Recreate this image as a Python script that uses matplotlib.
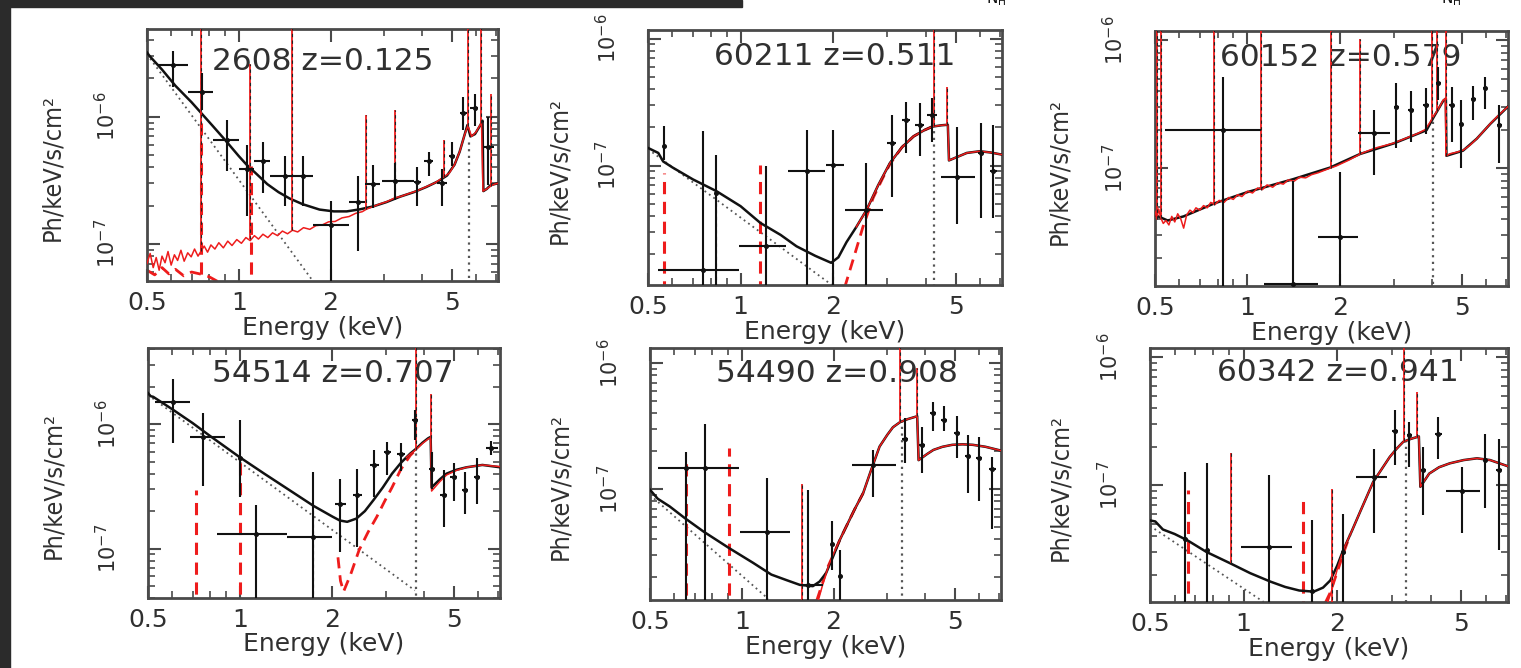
import numpy as np
import matplotlib
matplotlib.use("Agg")
import matplotlib.pyplot as plt
from matplotlib import font_manager as fm
from matplotlib.patches import Rectangle
from matplotlib.ticker import FixedLocator, FuncFormatter, LogLocator, NullFormatter

plt.rcParams['font.family'] = ['DejaVu Sans']

RED = '#ee1c1c'
INK = '#303030'
AXC = '#4a4a4a'
DOT = '#555555'

# ---------------- panel 1 : 2608 z=0.125 ----------------
p1_model_E = [0.50, 0.51, 0.56, 0.62, 0.70, 0.75, 0.82, 0.90, 1.00, 1.06, 1.15, 1.24, 1.35, 1.47, 1.62,
              1.84, 2.05, 2.26, 2.50, 2.76, 3.05, 3.38, 3.75, 4.12, 4.50, 4.82, 5.10, 5.30, 5.50, 5.62,
              5.75, 5.95, 6.20, 6.30, 6.34, 6.50, 6.70, 7.10]
p1_model_F = [3.2e-6, 3.0e-6, 2.35e-6, 1.75e-6, 1.3e-6, 1.08e-6, 8.5e-7, 6.6e-7, 4.9e-7, 4.2e-7, 3.5e-7,
              2.95e-7, 2.55e-7, 2.27e-7, 2.05e-7, 1.86e-7, 1.8e-7, 1.8e-7, 1.87e-7, 1.97e-7, 2.13e-7,
              2.35e-7, 2.55e-7, 2.8e-7, 3.1e-7, 3.45e-7, 4.2e-7, 5.3e-7, 7.2e-7, 8.6e-7, 7.0e-7, 7.3e-7,
              8.6e-7, 9.3e-7, 2.6e-7, 2.7e-7, 2.9e-7, 3.0e-7]
p1_red_E = [0.500, 0.512, 0.524, 0.536, 0.548, 0.560, 0.573, 0.586, 0.600, 0.615,
            0.630, 0.646, 0.662, 0.680, 0.698, 0.716, 0.735, 0.755, 0.770, 0.790,
            0.810, 0.835, 0.860, 0.890, 0.920, 0.950, 0.985, 1.020, 1.055, 1.090,
            1.125, 1.160, 1.200, 1.245, 1.290, 1.340, 1.390, 1.445, 1.500, 1.560,
            1.630, 1.710, 1.790, 1.880, 1.970, 2.070, 2.180, 2.300, 2.420, 2.540,
            2.620, 2.750, 2.900, 3.050, 3.250, 3.400, 3.600, 3.850, 4.100, 4.400,
            4.700, 4.900, 5.100, 5.300, 5.500, 5.640, 5.800, 6.000, 6.250, 6.320,
            6.500, 6.700, 6.900, 7.100]
p1_red_F = [7.0e-8, 8.4e-8, 6.5e-8, 7.8e-8, 6.2e-8, 8.0e-8, 7.1e-8, 8.7e-8, 6.8e-8, 8.2e-8,
            7.4e-8, 8.9e-8, 7.3e-8, 8.5e-8, 7.9e-8, 9.1e-8, 8.0e-8, 8.9e-8, 9.6e-8, 8.6e-8,
            9.8e-8, 9.1e-8, 1.02e-7, 9.3e-8, 1.05e-7, 9.7e-8, 1.08e-7, 1.01e-7, 1.12e-7, 1.06e-7,
            1.16e-7, 1.09e-7, 1.19e-7, 1.12e-7, 1.22e-7, 1.16e-7, 1.26e-7, 1.20e-7, 1.28e-7, 1.24e-7,
            1.34e-7, 1.30e-7, 1.39e-7, 1.41e-7, 1.49e-7, 1.50e-7, 1.60e-7, 1.64e-7, 1.74e-7, 1.79e-7,
            1.87e-7, 1.96e-7, 2.06e-7, 2.14e-7, 2.30e-7, 2.36e-7, 2.48e-7, 2.62e-7, 2.80e-7, 3.02e-7,
            3.35e-7, 3.6e-7, 4.2e-7, 5.3e-7, 7.2e-7, 8.5e-7, 7.0e-7, 7.6e-7, 9.0e-7, 2.6e-7,
            2.7e-7, 2.85e-7, 2.95e-7, 3.0e-7]
p1_rspk_E = [0.752, 1.09, 1.50, 2.62, 3.25, 4.70, 5.64, 6.25, 6.70]
p1_rspk_lo = [8.8e-8, 1.1e-7, 1.28e-7, 1.87e-7, 2.3e-7, 3.35e-7, 8.5e-7, 9.0e-7, 2.85e-7]
p1_rspk_hi = [1e-5, 2.6e-6, 1e-5, 1.04e-6, 1.13e-6, 6.6e-7, 1e-5, 1e-5, 1.5e-6]
p1_dash_E = [0.50, 0.53, 0.56, 0.59, 0.62, 0.66, 0.70, 0.745, 0.80, 0.86, 0.95]
p1_dash_F = [6.2e-8, 5.7e-8, 6.5e-8, 5.8e-8, 6.3e-8, 5.6e-8, 6.0e-8, 5.8e-8, 5.5e-8, 5.0e-8, 4.5e-8]
p1_dspk_E = [0.75, 1.10]
p1_dspk_lo = [4e-8, 4e-8]
p1_dspk_hi = [1.07e-6, 4.1e-7]
p1_pl_E = [0.50, 1.76]
p1_pl_F = [3.1e-6, 5.0e-8]
p1_fe = (5.69, 6.8e-7)
p1_E = [0.608, 0.757, 0.914, 1.06, 1.2, 1.42, 1.62, 2.0, 2.46, 2.75, 3.25, 3.84, 4.2, 4.63, 5.0, 5.43, 5.94, 6.56]
p1_F = [2.53e-6, 1.56e-6, 6.6e-7, 3.9e-7, 4.5e-7, 3.4e-7, 3.4e-7, 1.4e-7, 2.15e-7, 2.97e-7, 3.1e-7,
        3.05e-7, 4.5e-7, 3.0e-7, 4.9e-7, 1.07e-6, 1.17e-6, 5.75e-7]
p1_Elo = [0.538, 0.68, 0.82, 1.0, 1.12, 1.27, 1.52, 1.75, 2.3, 2.6, 2.95, 3.75, 4.05, 4.45, 4.88, 5.3, 5.75, 6.35]
p1_Ehi = [0.68, 0.82, 1.0, 1.12, 1.27, 1.52, 1.75, 2.3, 2.6, 2.9, 3.75, 3.95, 4.35, 4.8, 5.12, 5.62, 6.1, 6.85]
p1_Flo = [1.7e-6, 1.13e-6, 3.75e-7, 1.65e-7, 2.5e-7, 2.0e-7, 2.0e-7, 1e-9, 8.8e-8, 1.9e-7, 2.2e-7,
          2.0e-7, 3.4e-7, 2.0e-7, 4.1e-7, 7.9e-7, 8.5e-7, 2.9e-7]
p1_Fhi = [3.3e-6, 2.2e-6, 9.5e-7, 6.0e-7, 6.3e-7, 4.9e-7, 4.9e-7, 2.16e-7, 3.4e-7, 4.2e-7, 4.3e-7,
          4.0e-7, 5.3e-7, 3.9e-7, 6.3e-7, 1.43e-6, 1.5e-6, 1.0e-6]

# ---------------- panel 2 : 60211 z=0.511 ----------------
p2_model_E = [0.50, 0.54, 0.56, 0.60, 0.70, 0.835, 1.00, 1.16, 1.35, 1.52, 1.75, 1.97, 2.08, 2.21, 2.38,
              2.57, 2.80, 3.06, 3.35, 3.65, 3.95, 4.20, 4.50, 4.72, 4.76, 5.10, 5.44, 6.00, 6.50, 7.10]
p2_model_F = [1.38e-7, 1.26e-7, 1.08e-7, 9.7e-8, 7.8e-8, 6.3e-8, 4.8e-8, 3.54e-8, 2.85e-8, 2.32e-8,
              1.95e-8, 1.72e-8, 1.9e-8, 2.5e-8, 3.3e-8, 4.5e-8, 7.0e-8, 1.05e-7, 1.4e-7, 1.7e-7,
              1.9e-7, 2.03e-7, 2.08e-7, 2.1e-7, 1.1e-7, 1.18e-7, 1.26e-7, 1.3e-7, 1.27e-7, 1.22e-7]
p2_red_E = [2.38, 2.57, 2.80, 3.06, 3.35, 3.65, 3.95, 4.20, 4.50, 4.72, 4.76, 5.10, 5.44, 6.00, 6.50, 7.10]
p2_red_F = [3.3e-8, 4.5e-8, 7.0e-8, 1.05e-7, 1.4e-7, 1.7e-7, 1.9e-7, 2.03e-7, 2.08e-7, 2.1e-7,
            1.1e-7, 1.18e-7, 1.26e-7, 1.3e-7, 1.27e-7, 1.22e-7]
p2_rspk_E = [0.83, 2.00, 4.24, 4.70]
p2_rspk_lo = [1e-8, 1e-8, 2.04e-7, 2.1e-7]
p2_rspk_hi = [6.2e-8, 1.75e-8, 1e-5, 4.2e-7]
p2_dash_E = [2.18, 2.35, 2.50, 2.70, 2.90, 3.06, 3.35, 3.65, 3.95, 4.20]
p2_dash_F = [1.1e-8, 2.0e-8, 3.3e-8, 5.6e-8, 8.0e-8, 1.03e-7, 1.4e-7, 1.7e-7, 1.9e-7, 2.03e-7]
p2_dspk_E = [0.565, 1.16]
p2_dspk_lo = [1e-8, 1e-8]
p2_dspk_hi = [8.8e-8, 1.02e-7]
p2_pl_E = [0.50, 1.98]
p2_pl_F = [1.35e-7, 1.15e-8]
p2_fe = (4.26, 2.0e-7)
p2_E = [0.755, 0.565, 0.83, 1.21, 1.64, 2.0, 2.55, 3.1, 3.45, 3.83, 4.2, 5.05, 6.06, 6.6]
p2_F = [1.52e-8, 1.42e-7, 6.1e-8, 2.32e-8, 9.0e-8, 1.02e-7, 4.5e-8, 1.5e-7, 2.3e-7, 2.1e-7, 2.52e-7,
        8.2e-8, 1.27e-7, 9.0e-8]
p2_Elo = [0.54, 0.565, 0.83, 0.99, 1.43, 1.90, 2.19, 3.0, 3.35, 3.7, 4.05, 4.47, 5.9, 6.45]
p2_Ehi = [0.99, 0.565, 0.83, 1.41, 1.88, 2.17, 2.9, 3.2, 3.55, 3.95, 4.35, 5.8, 6.2, 6.8]
p2_Flo = [1e-9, 1.1e-7, 1e-9, 1e-9, 1e-9, 1e-9, 1e-9, 5.7e-8, 1.26e-7, 1.2e-7, 1.55e-7, 3.5e-8, 3.9e-8, 3.9e-8]
p2_Fhi = [1.86e-7, 2.05e-7, 1.22e-7, 9.9e-8, 1.92e-7, 1.92e-7, 1.05e-7, 2.52e-7, 3.2e-7, 3.1e-7, 3.4e-7,
          2.0e-7, 2.17e-7, 2.1e-7]

# ---------------- panel 3 : 60152 z=0.579 ----------------
p3_model_E = [0.50, 0.55, 0.62, 0.78, 1.00, 1.41, 1.86, 2.33, 3.00, 3.40, 3.84, 4.05, 4.35, 4.44, 4.46,
              5.05, 5.60, 6.20, 7.10]
p3_model_F = [4.3e-8, 3.9e-8, 4.2e-8, 5.3e-8, 6.5e-8, 8.2e-8, 1.01e-7, 1.29e-7, 1.56e-7, 1.76e-7,
              1.98e-7, 2.5e-7, 3.35e-7, 3.5e-7, 1.25e-7, 1.37e-7, 1.7e-7, 2.22e-7, 3.05e-7]
p3_red_E = [0.500, 0.507, 0.514, 0.522, 0.532, 0.543, 0.555, 0.567, 0.580, 0.593,
            0.607, 0.620, 0.634, 0.650, 0.665, 0.680, 0.700, 0.720, 0.740, 0.760,
            0.785, 0.810, 0.840, 0.870, 0.900, 0.930, 0.960, 1.000, 1.040, 1.080,
            1.120, 1.160, 1.210, 1.260, 1.310, 1.360, 1.420, 1.480, 1.550, 1.620,
            1.700, 1.780, 1.860, 1.950, 2.050, 2.150, 2.250, 2.350, 2.500, 2.650,
            2.800, 3.000, 3.200, 3.400, 3.600, 3.800, 3.950, 4.050, 4.200, 4.350,
            4.420, 4.450, 4.600, 4.800, 5.050, 5.300, 5.600, 5.900, 6.200, 6.600, 7.100]
p3_red_F = [4.6e-8, 4.0e-8, 4.8e-8, 4.1e-8, 3.7e-8, 3.9e-8, 3.6e-8, 4.2e-8, 3.8e-8, 4.4e-8,
            4.0e-8, 3.4e-8, 4.3e-8, 4.7e-8, 4.5e-8, 4.9e-8, 4.7e-8, 5.1e-8, 4.9e-8, 5.4e-8,
            5.2e-8, 5.6e-8, 5.4e-8, 5.9e-8, 5.7e-8, 6.2e-8, 6.0e-8, 6.6e-8, 6.4e-8, 7.0e-8,
            6.8e-8, 7.4e-8, 7.1e-8, 7.7e-8, 7.5e-8, 8.1e-8, 7.9e-8, 8.5e-8, 8.4e-8, 8.9e-8,
            9.2e-8, 9.6e-8, 1.0e-7, 1.04e-7, 1.1e-7, 1.16e-7, 1.23e-7, 1.3e-7, 1.38e-7, 1.45e-7,
            1.5e-7, 1.57e-7, 1.67e-7, 1.77e-7, 1.87e-7, 2.0e-7, 2.3e-7, 2.55e-7, 2.9e-7, 3.4e-7,
            3.5e-7, 1.25e-7, 1.3e-7, 1.33e-7, 1.38e-7, 1.5e-7, 1.7e-7, 1.95e-7, 2.23e-7, 2.6e-7, 3.05e-7]
p3_rspk_E = [0.507, 0.525, 0.78, 1.11, 1.87, 2.33, 4.00, 4.15, 4.43]
p3_rspk_lo = [4.0e-8, 4.1e-8, 5.2e-8, 6.8e-8, 1.0e-7, 1.3e-7, 2.4e-7, 2.8e-7, 1.25e-7]
p3_rspk_hi = [1e-5, 1e-5, 1e-5, 1e-5, 1e-5, 1.03e-6, 1e-5, 1e-5, 1e-5]
p3_dash_E, p3_dash_F = [], []
p3_dspk_E, p3_dspk_lo, p3_dspk_hi = [], [], []
p3_pl_E, p3_pl_F = [], []
p3_fe = (4.04, 2.5e-7)
p3_E = [0.83, 1.41, 2.0, 2.58, 3.06, 3.43, 3.83, 4.2, 4.65, 4.98, 5.45, 5.95, 6.6]
p3_F = [1.98e-7, 1.25e-8, 2.9e-8, 1.87e-7, 3.0e-7, 2.84e-7, 3.1e-7, 4.6e-7, 3.1e-7, 2.2e-7, 3.5e-7, 4.2e-7, 2.17e-7]
p3_Elo = [0.54, 1.13, 1.7, 2.3, 3.0, 3.35, 3.75, 4.12, 4.55, 4.9, 5.35, 5.85, 6.5]
p3_Ehi = [1.11, 1.7, 2.3, 2.93, 3.12, 3.5, 3.9, 4.28, 4.72, 5.05, 5.55, 6.05, 6.75]
p3_Flo = [1e-9, 1e-9, 1e-9, 8.8e-8, 1.43e-7, 1.6e-7, 1.85e-7, 3.4e-7, 1.6e-7, 1.0e-7, 2.4e-7, 2.9e-7, 1.09e-7]
p3_Fhi = [5.2e-7, 8.0e-8, 9.4e-8, 2.84e-7, 4.6e-7, 4.0e-7, 4.2e-7, 6.2e-7, 4.3e-7, 3.4e-7, 4.35e-7, 5.2e-7, 3.1e-7]

# ---------------- panel 4 : 54514 z=0.707 ----------------
p4_model_E = [0.50, 0.51, 0.52, 0.60, 0.70, 0.80, 1.00, 1.20, 1.45, 1.74, 2.01, 2.12, 2.24, 2.40, 2.56,
              2.73, 2.93, 3.14, 3.36, 3.60, 3.75, 3.95, 4.12, 4.20, 4.23, 4.50, 4.73, 5.10, 5.50, 6.20, 7.10]
p4_model_F = [1.78e-6, 1.68e-6, 1.66e-6, 1.32e-6, 1.02e-6, 8.0e-7, 5.4e-7, 4.0e-7, 2.95e-7, 2.2e-7,
              1.8e-7, 1.68e-7, 1.64e-7, 1.74e-7, 2.0e-7, 2.45e-7, 3.1e-7, 4.0e-7, 4.9e-7, 5.8e-7,
              6.3e-7, 7.1e-7, 7.7e-7, 7.9e-7, 3.1e-7, 3.6e-7, 4.0e-7, 4.3e-7, 4.5e-7, 4.7e-7, 4.5e-7]
p4_red_E = [3.50, 3.60, 3.75, 3.95, 4.12, 4.20, 4.23, 4.50, 4.73, 5.10, 5.50, 6.20, 7.10]
p4_red_F = [5.4e-7, 5.75e-7, 6.2e-7, 7.0e-7, 7.6e-7, 7.8e-7, 2.9e-7, 3.45e-7, 3.9e-7, 4.25e-7, 4.5e-7,
            4.7e-7, 4.55e-7]
p4_rspk_E = [1.73, 3.76, 4.20]
p4_rspk_lo = [3e-8, 6.2e-7, 7.8e-7]
p4_rspk_hi = [2.2e-7, 1e-5, 1.76e-6]
p4_dash_E = [2.09, 2.13, 2.18, 2.30, 2.45, 2.62, 2.80, 2.97, 3.14, 3.35, 3.60, 3.75]
p4_dash_F = [8.5e-8, 5.5e-8, 4.5e-8, 6.2e-8, 9.7e-8, 1.35e-7, 1.8e-7, 2.4e-7, 3.1e-7, 4.3e-7, 5.6e-7, 6.2e-7]
p4_dspk_E = [0.72, 1.00]
p4_dspk_lo = [3e-8, 3e-8]
p4_dspk_hi = [2.95e-7, 5.4e-7]
p4_pl_E = [0.50, 3.73]
p4_pl_F = [1.72e-6, 4.6e-8]
p4_fe = (3.75, 6.2e-7)
p4_E = [0.605, 0.755, 1.0, 1.13, 1.73, 2.13, 2.42, 2.75, 3.03, 3.37, 3.73, 4.25, 4.63, 5.0, 5.45, 5.96, 6.6]
p4_F = [1.51e-6, 7.9e-7, 5.3e-7, 1.3e-7, 1.23e-7, 2.27e-7, 2.68e-7, 4.7e-7, 6.0e-7, 5.8e-7, 1.09e-6,
        4.4e-7, 2.7e-7, 3.76e-7, 2.95e-7, 3.76e-7, 6.4e-7]
p4_Elo = [0.526, 0.685, 1.0, 0.84, 1.42, 2.04, 2.34, 2.66, 2.95, 3.27, 3.65, 4.15, 4.52, 4.87, 5.32, 5.82, 6.35]
p4_Ehi = [0.685, 0.89, 1.0, 1.42, 2.0, 2.22, 2.5, 2.84, 3.12, 3.47, 3.82, 4.35, 4.74, 5.13, 5.58, 6.1, 6.95]
p4_Flo = [7.0e-7, 3.2e-7, 2.6e-7, 1e-9, 1e-9, 9.4e-8, 1.03e-7, 2.6e-7, 3.9e-7, 4.2e-7, 7.4e-7, 3.0e-7,
          1.49e-7, 2.4e-7, 1.9e-7, 2.3e-7, 5.6e-7]
p4_Fhi = [2.29e-6, 1.22e-6, 1.08e-6, 2.23e-7, 4.1e-7, 3.65e-7, 4.4e-7, 6.2e-7, 7.2e-7, 7.0e-7, 1.3e-6,
          6.0e-7, 4.3e-7, 4.9e-7, 4.1e-7, 5.3e-7, 7.3e-7]

# ---------------- panel 5 : 54490 z=0.908 ----------------
p5_model_E = [0.50, 0.53, 0.58, 0.65, 0.75, 0.91, 1.09, 1.25, 1.40, 1.55, 1.71, 1.80, 1.89, 1.99, 2.10,
              2.20, 2.35, 2.50, 2.65, 2.83, 3.00, 3.13, 3.30, 3.50, 3.73, 3.76, 3.80, 4.05, 4.25, 4.55,
              4.90, 5.30, 5.72, 6.30, 7.10]
p5_model_F = [9.9e-8, 8.4e-8, 7.3e-8, 5.9e-8, 4.6e-8, 3.4e-8, 2.6e-8, 2.1e-8, 1.9e-8, 1.74e-8,
              1.7e-8, 1.85e-8, 2.16e-8, 2.9e-8, 4.0e-8, 5.05e-8, 7.0e-8, 9.3e-8, 1.4e-7, 2.18e-7,
              2.7e-7, 3.1e-7, 3.4e-7, 3.6e-7, 3.77e-7, 3.8e-7, 1.7e-7, 1.9e-7, 2.05e-7, 2.17e-7,
              2.25e-7, 2.27e-7, 2.25e-7, 2.17e-7, 2.02e-7]
p5_red_E = [1.78, 1.86, 1.93, 1.99, 2.10, 2.20, 2.35, 2.50, 2.65, 2.83, 3.00, 3.13, 3.30, 3.50, 3.73,
            3.76, 3.80, 4.05, 4.25, 4.55, 4.90, 5.30, 5.72, 6.30, 7.10]
p5_red_F = [1.3e-8, 1.9e-8, 2.5e-8, 3.0e-8, 4.0e-8, 5.05e-8, 7.0e-8, 9.3e-8, 1.4e-7, 2.18e-7, 2.7e-7,
            3.1e-7, 3.4e-7, 3.6e-7, 3.77e-7, 3.8e-7, 1.7e-7, 1.9e-7, 2.05e-7, 2.17e-7, 2.25e-7,
            2.27e-7, 2.25e-7, 2.17e-7, 2.02e-7]
p5_rspk_E = [1.58, 3.30, 3.75]
p5_rspk_lo = [1e-8, 3.4e-7, 3.8e-7]
p5_rspk_hi = [1.1e-7, 1e-5, 9.1e-7]
p5_dash_E = [1.76, 1.84, 1.92, 2.00, 2.10, 2.20, 2.35, 2.50]
p5_dash_F = [1.3e-8, 1.8e-8, 2.45e-8, 3.05e-8, 4.0e-8, 5.05e-8, 7.0e-8, 9.3e-8]
p5_dspk_E = [0.655, 0.91]
p5_dspk_lo = [1e-8, 1e-8]
p5_dspk_hi = [1.65e-7, 2.12e-7]
p5_pl_E = [0.50, 1.22]
p5_pl_F = [9.0e-8, 1.35e-8]
p5_fe = (3.35, 3.45e-7)
p5_E = [0.655, 0.76, 1.21, 1.65, 1.97, 2.1, 2.7, 3.43, 3.9, 4.25, 4.6, 5.07, 5.5, 6.0, 6.6]
p5_F = [1.47e-7, 1.47e-7, 4.6e-8, 1.74e-8, 3.7e-8, 2.03e-8, 1.56e-7, 2.5e-7, 2.25e-7, 4.0e-7, 3.55e-7,
        2.78e-7, 1.84e-7, 1.76e-7, 1.44e-7]
p5_Elo = [0.53, 0.70, 0.99, 1.56, 1.97, 2.1, 2.3, 3.36, 3.82, 4.15, 4.5, 4.95, 5.38, 5.88, 6.45]
p5_Ehi = [0.70, 0.98, 1.44, 1.85, 1.97, 2.1, 3.2, 3.5, 3.98, 4.35, 4.7, 5.2, 5.62, 6.12, 6.8]
p5_Flo = [1e-9, 1e-9, 1e-9, 1e-9, 2.3e-8, 1e-9, 8.7e-8, 1.6e-7, 1.34e-7, 2.9e-7, 2.9e-7, 1.76e-7, 9.3e-8,
          8.0e-8, 4.8e-8]
p5_Fhi = [1.99e-7, 3.3e-7, 1.22e-7, 9.9e-8, 5.6e-8, 3.3e-8, 2.05e-7, 3.66e-7, 3.14e-7, 4.95e-7, 4.6e-7,
          3.8e-7, 2.7e-7, 2.6e-7, 1.81e-7]

# ---------------- panel 6 : 60342 z=0.941 ----------------
p6_model_E = [0.50, 0.52, 0.55, 0.60, 0.66, 0.76, 0.905, 1.05, 1.22, 1.36, 1.51, 1.68, 1.80, 1.90, 2.00,
              2.09, 2.23, 2.37, 2.61, 2.95, 3.10, 3.26, 3.45, 3.62, 3.66, 3.70, 3.95, 4.25, 4.60, 5.10,
              5.63, 6.20, 7.10]
p6_model_F = [5.3e-8, 5.2e-8, 4.5e-8, 4.15e-8, 3.7e-8, 3.0e-8, 2.45e-8, 2.05e-8, 1.76e-8, 1.6e-8,
              1.5e-8, 1.47e-8, 1.58e-8, 1.8e-8, 2.35e-8, 3.1e-8, 4.4e-8, 6.2e-8, 1.06e-7, 1.66e-7,
              1.92e-7, 2.18e-7, 2.3e-7, 2.38e-7, 2.4e-7, 9.7e-8, 1.23e-7, 1.38e-7, 1.48e-7, 1.57e-7,
              1.62e-7, 1.57e-7, 1.4e-7]
p6_red_E = [1.86, 1.92, 2.00, 2.09, 2.23, 2.37, 2.61, 2.95, 3.10, 3.26, 3.45, 3.62, 3.66, 3.70, 3.95,
            4.25, 4.60, 5.10, 5.63, 6.20, 7.10]
p6_red_F = [1.2e-8, 1.5e-8, 2.2e-8, 3.1e-8, 4.4e-8, 6.2e-8, 1.06e-7, 1.66e-7, 1.92e-7, 2.18e-7, 2.3e-7,
            2.38e-7, 2.4e-7, 9.7e-8, 1.23e-7, 1.38e-7, 1.48e-7, 1.57e-7, 1.62e-7, 1.57e-7, 1.4e-7]
p6_rspk_E = [0.91, 1.92, 3.28, 3.62]
p6_rspk_lo = [2.45e-8, 1e-8, 2.2e-7, 2.38e-7]
p6_rspk_hi = [1.77e-7, 9.4e-8, 1e-5, 5.35e-7]
p6_dash_E = [1.83, 1.90, 2.00, 2.09, 2.20]
p6_dash_F = [1.2e-8, 1.45e-8, 2.1e-8, 2.9e-8, 4.1e-8]
p6_dspk_E = [0.66, 1.55]
p6_dspk_lo = [1e-8, 1e-8]
p6_dspk_hi = [9.1e-8, 7.6e-8]
p6_pl_E = [0.50, 1.16]
p6_pl_F = [4.8e-8, 1.22e-8]
p6_fe = (3.33, 2.18e-7)
p6_E = [0.65, 0.76, 1.21, 1.66, 2.08, 2.62, 3.06, 3.41, 3.78, 4.23, 5.05, 5.95, 6.6]
p6_F = [3.8e-8, 3.1e-8, 3.26e-8, 1.5e-8, 3.0e-8, 1.16e-7, 2.65e-7, 2.45e-7, 1.31e-7, 2.53e-7, 8.97e-8,
        1.57e-7, 1.31e-7]
p6_Elo = [0.65, 0.76, 0.98, 1.66, 2.08, 2.3, 3.0, 3.35, 3.72, 4.12, 4.46, 5.95, 6.5]
p6_Ehi = [0.65, 0.76, 1.43, 1.66, 2.08, 2.9, 3.13, 3.48, 3.85, 4.35, 5.75, 5.95, 6.75]
p6_Flo = [1e-9, 1e-9, 1e-9, 1e-9, 1e-9, 4.2e-8, 1.43e-7, 1.39e-7, 5.8e-8, 1.6e-7, 4.2e-8, 6.6e-8, 3.1e-8]
p6_Fhi = [1.27e-7, 1.48e-7, 1.2e-7, 5.3e-8, 6.0e-8, 1.93e-7, 3.85e-7, 3.12e-7, 2.0e-7, 3.4e-7, 1.39e-7,
          2.53e-7, 2.3e-7]

titles = ['2608 z=0.125', '60211 z=0.511', '60152 z=0.579',
          '54514 z=0.707', '54490 z=0.908', '60342 z=0.941']

W, H = 1521, 668
# axes boxes in pixels: left, top, width, height
boxes = [(147, 29, 351, 252), (648, 30, 354, 255), (1155, 31, 353, 255),
         (148, 348, 352, 250), (650, 348, 351, 252), (1150, 348, 358, 254)]
ylims = [(5.1e-8, 4.9e-6), (1.15e-8, 1.17e-6), (1.2e-8, 1.18e-6),
         (4.0e-8, 4.1e-6), (1.32e-8, 1.32e-6), (1.22e-8, 1.18e-6)]
tpos = [(0.50, 0.873), (0.526, 0.895), (0.527, 0.898), (0.524, 0.896), (0.533, 0.899), (0.525, 0.904)]
ylx = [0.27, 0.25, 0.27, 0.27, 0.256, 0.25]


def pick_narrow():
    # a condensed sans for the y label, like the narrow Helvetica of the original
    good = []
    for f in fm.fontManager.ttflist:
        st = str(f.stretch).lower()
        nm = f.name
        narrow = ('Narrow' in nm or 'Condensed' in nm or 'condensed' in st)
        if not narrow or f.style != 'normal':
            continue
        try:
            w = int(f.weight)
        except (TypeError, ValueError):
            w = 400 if str(f.weight) in ('normal', 'regular', 'book') else 700
        if w > 450 or w < 350:
            continue
        rank = 0 if 'Liberation' in nm else (1 if 'DejaVu' in nm else 2)
        good.append((rank, f.fname))
    if good:
        good.sort()
        return fm.FontProperties(fname=good[0][1])
    return fm.FontProperties(family='Liberation Sans')


YFONT = pick_narrow()


def draw(ax, title, tp, ylim, lx, model, red, rspk, dash, dspk, pl, fe, pts):
    ax.set_xscale('log')
    ax.set_yscale('log')

    if len(pl[0]):
        ax.plot(pl[0], pl[1], color=DOT, lw=1.3, ls=(0, (1, 2)), zorder=2)
    ax.vlines(fe[0], 1e-9, fe[1], color=DOT, lw=1.6, ls=(0, (1, 2)), zorder=2)
    if len(dash[0]):
        ax.plot(dash[0], dash[1], color=RED, lw=2.0, ls=(0, (4, 2.5)), zorder=2)
    if len(dspk[0]):
        ax.vlines(dspk[0], dspk[1], dspk[2], color=RED, lw=2.2, ls=(0, (4, 2.5)), zorder=2)
    ax.plot(model[0], model[1], color='#111111', lw=1.8, zorder=3)
    ax.plot(red[0], red[1], color=RED, lw=1.1, zorder=4)
    ax.vlines(rspk[0], rspk[1], rspk[2], color=RED, lw=1.3, zorder=4)
    ax.vlines(rspk[0], rspk[1], rspk[2], color='#222222', lw=0.8, ls=(0, (3, 3)), zorder=4)

    E, F, Elo, Ehi, Flo, Fhi = [np.asarray(a) for a in pts]
    ax.errorbar(E, F, xerr=[E - Elo, Ehi - E], yerr=[F - Flo, Fhi - F], fmt='o', ms=2.6,
                color='#111111', elinewidth=1.5, capsize=0, zorder=5)

    ax.set_xlim(0.5, 7.08)
    ax.set_ylim(*ylim)

    ax.text(tp[0], tp[1], title, transform=ax.transAxes, ha='center', va='center',
            fontsize=22.5, color=INK, zorder=1)

    ax.xaxis.set_major_locator(FixedLocator([0.5, 1, 2, 5]))
    ax.xaxis.set_major_formatter(FuncFormatter(lambda v, p: '%g' % v))
    ax.xaxis.set_minor_locator(FixedLocator([0.6, 0.7, 0.8, 0.9, 3, 4, 6, 7]))
    ax.xaxis.set_minor_formatter(NullFormatter())
    ax.yaxis.set_major_locator(LogLocator(base=10, numticks=12))
    ax.yaxis.set_major_formatter(FuncFormatter(lambda v, p: r'$10^{%d}$' % round(np.log10(v))))
    ax.yaxis.set_minor_locator(LogLocator(base=10, subs=np.arange(2, 10), numticks=12))
    ax.yaxis.set_minor_formatter(NullFormatter())

    ax.tick_params(which='both', direction='in', top=True, right=True, color=AXC)
    ax.tick_params(which='major', length=9, width=1.5)
    ax.tick_params(which='minor', length=5, width=1.2)
    ax.tick_params(axis='x', which='major', pad=7, labelsize=18, labelcolor=INK)
    ax.tick_params(axis='y', which='major', pad=20, labelsize=15, labelcolor=INK, labelrotation=90)
    for t in ax.get_yticklabels():
        t.set_va('center')
    for s in ax.spines.values():
        s.set_linewidth(2)
        s.set_color(AXC)

    ax.set_xlabel('Energy (keV)', fontsize=18, color=INK)
    ax.xaxis.label.set_va('center')
    ax.xaxis.set_label_coords(0.5, -0.185)
    ax.set_ylabel('Ph/keV/s/cm\u00b2', fontproperties=YFONT, fontsize=18, color=INK)
    ax.yaxis.label.set_va('center')
    ax.yaxis.set_label_coords(-lx, 0.45)


fig = plt.figure(figsize=(W / 100, H / 100), dpi=100)
fig.patch.set_facecolor('white')

axes = []
for (l, t, w, h) in boxes:
    axes.append(fig.add_axes([l / W, 1 - (t + h) / H, w / W, h / H]))

draw(axes[0], titles[0], tpos[0], ylims[0], ylx[0], (p1_model_E, p1_model_F), (p1_red_E, p1_red_F),
     (p1_rspk_E, p1_rspk_lo, p1_rspk_hi), (p1_dash_E, p1_dash_F), (p1_dspk_E, p1_dspk_lo, p1_dspk_hi),
     (p1_pl_E, p1_pl_F), p1_fe, (p1_E, p1_F, p1_Elo, p1_Ehi, p1_Flo, p1_Fhi))
draw(axes[1], titles[1], tpos[1], ylims[1], ylx[1], (p2_model_E, p2_model_F), (p2_red_E, p2_red_F),
     (p2_rspk_E, p2_rspk_lo, p2_rspk_hi), (p2_dash_E, p2_dash_F), (p2_dspk_E, p2_dspk_lo, p2_dspk_hi),
     (p2_pl_E, p2_pl_F), p2_fe, (p2_E, p2_F, p2_Elo, p2_Ehi, p2_Flo, p2_Fhi))
draw(axes[2], titles[2], tpos[2], ylims[2], ylx[2], (p3_model_E, p3_model_F), (p3_red_E, p3_red_F),
     (p3_rspk_E, p3_rspk_lo, p3_rspk_hi), (p3_dash_E, p3_dash_F), (p3_dspk_E, p3_dspk_lo, p3_dspk_hi),
     (p3_pl_E, p3_pl_F), p3_fe, (p3_E, p3_F, p3_Elo, p3_Ehi, p3_Flo, p3_Fhi))
draw(axes[3], titles[3], tpos[3], ylims[3], ylx[3], (p4_model_E, p4_model_F), (p4_red_E, p4_red_F),
     (p4_rspk_E, p4_rspk_lo, p4_rspk_hi), (p4_dash_E, p4_dash_F), (p4_dspk_E, p4_dspk_lo, p4_dspk_hi),
     (p4_pl_E, p4_pl_F), p4_fe, (p4_E, p4_F, p4_Elo, p4_Ehi, p4_Flo, p4_Fhi))
draw(axes[4], titles[4], tpos[4], ylims[4], ylx[4], (p5_model_E, p5_model_F), (p5_red_E, p5_red_F),
     (p5_rspk_E, p5_rspk_lo, p5_rspk_hi), (p5_dash_E, p5_dash_F), (p5_dspk_E, p5_dspk_lo, p5_dspk_hi),
     (p5_pl_E, p5_pl_F), p5_fe, (p5_E, p5_F, p5_Elo, p5_Ehi, p5_Flo, p5_Fhi))
draw(axes[5], titles[5], tpos[5], ylims[5], ylx[5], (p6_model_E, p6_model_F), (p6_red_E, p6_red_F),
     (p6_rspk_E, p6_rspk_lo, p6_rspk_hi), (p6_dash_E, p6_dash_F), (p6_dspk_E, p6_dspk_lo, p6_dspk_hi),
     (p6_pl_E, p6_pl_F), p6_fe, (p6_E, p6_F, p6_Elo, p6_Ehi, p6_Flo, p6_Fhi))

# dark frame pieces of the screenshot
fig.add_artist(Rectangle((0, 0), 10 / W, 1, transform=fig.transFigure, color='#2b2b2b', zorder=10))
fig.add_artist(Rectangle((0, 1 - 7 / H), 742 / W, 7 / H, transform=fig.transFigure, color='#2b2b2b', zorder=10))

# labels cut off by the top edge of the screenshot
for xp in (986, 1441):
    fig.text(xp / W, 1 - 3 / H, r'N$_{\rm H}$', fontsize=11, color='#111111', va='baseline')

fig.savefig('out.png', dpi=100)
